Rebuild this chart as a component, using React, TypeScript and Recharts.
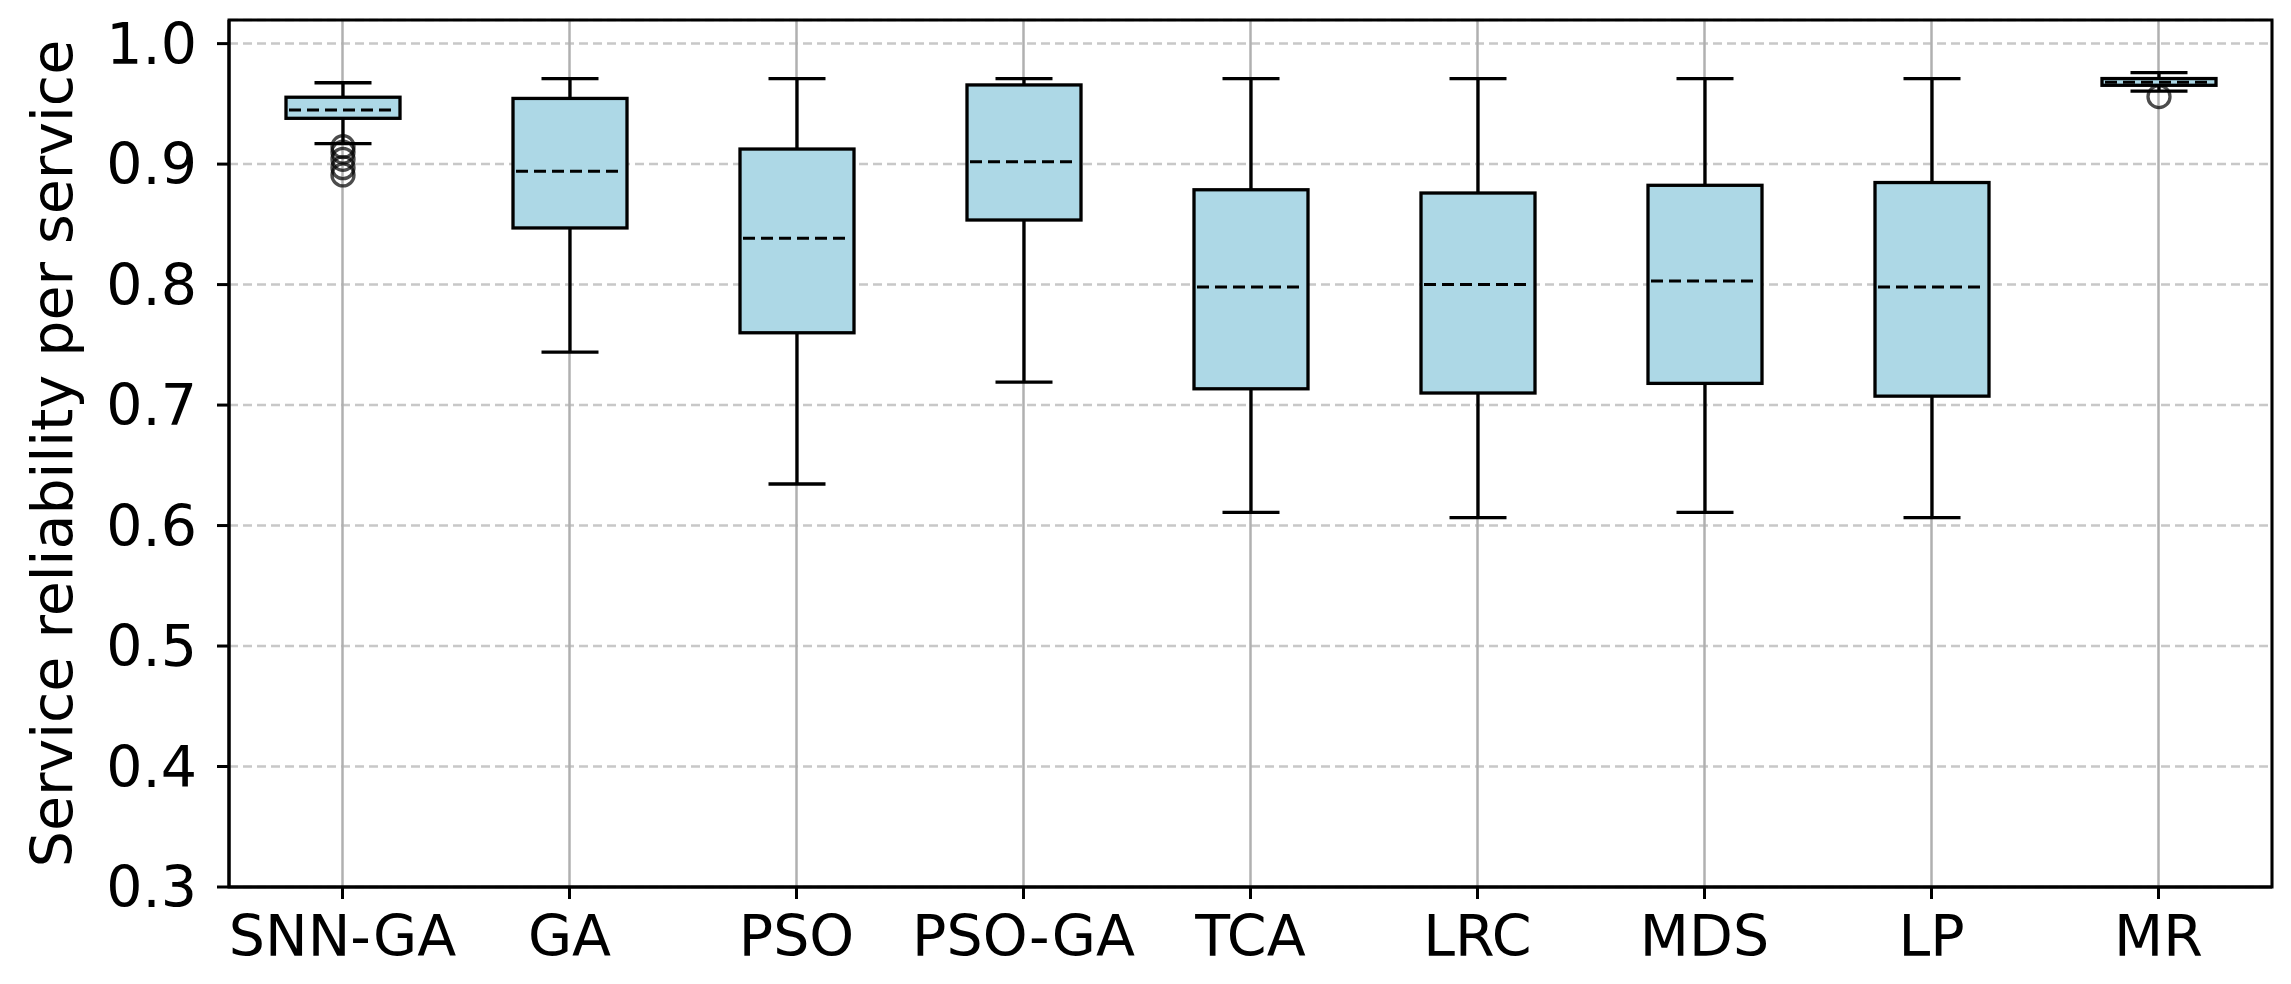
import React from 'react';
import { ComposedChart, Bar, XAxis, YAxis, CartesianGrid, ReferenceArea } from 'recharts';

const categories = ['SNN-GA', 'GA', 'PSO', 'PSO-GA', 'TCA', 'LRC', 'MDS', 'LP', 'MR'];
const whiskerLow = [0.917, 0.744, 0.6345, 0.719, 0.611, 0.6065, 0.611, 0.6065, 0.9605];
const q1Values = [0.938, 0.847, 0.76, 0.8536, 0.7135, 0.71, 0.718, 0.7074, 0.9654];
const medianValues = [0.945, 0.894, 0.8385, 0.902, 0.798, 0.8, 0.803, 0.798, 0.968];
const q3Values = [0.9555, 0.9545, 0.9125, 0.9657, 0.8787, 0.876, 0.8824, 0.8847, 0.971];
const whiskerHigh = [0.9675, 0.971, 0.971, 0.971, 0.971, 0.971, 0.971, 0.971, 0.976];
const outlierValues: number[][] = [
  [0.9145, 0.91, 0.904, 0.897, 0.891],
  [], [], [], [], [], [], [],
  [0.956],
];
const yTicks = [0.3, 0.4, 0.5, 0.6, 0.7, 0.8, 0.9, 1.0];
const yDomain = [0.3, 1.0196];

const data = categories.map((name, i) => ({
  name,
  low: whiskerLow[i],
  q1: q1Values[i],
  median: medianValues[i],
  q3: q3Values[i],
  high: whiskerHigh[i],
  outliers: outlierValues[i],
}));

const FONT = "'DejaVu Sans', sans-serif";

const BoxShape = (props: any) => {
  const { x, y, width, height, payload } = props;
  if (!payload) return null;
  const { low, high, q1, q3, median, outliers } = payload;
  const toY = (v: number) => y + ((high - v) / (high - low)) * height;
  const cx = x + width / 2;
  const capHalf = width / 4;
  const lw = 3.3;
  return (
    <g>
      <line x1={cx} x2={cx} y1={toY(high)} y2={toY(q3)} stroke="#000" strokeWidth={lw} />
      <line x1={cx} x2={cx} y1={toY(q1)} y2={toY(low)} stroke="#000" strokeWidth={lw} />
      <line x1={cx - capHalf} x2={cx + capHalf} y1={toY(high)} y2={toY(high)} stroke="#000" strokeWidth={lw} />
      <line x1={cx - capHalf} x2={cx + capHalf} y1={toY(low)} y2={toY(low)} stroke="#000" strokeWidth={lw} />
      <rect
        x={x}
        y={toY(q3)}
        width={width}
        height={toY(q1) - toY(q3)}
        fill="#ADD8E6"
        stroke="#000"
        strokeWidth={lw}
      />
      <line
        x1={x + 3}
        x2={x + width - 3}
        y1={toY(median)}
        y2={toY(median)}
        stroke="#000"
        strokeWidth={3}
        strokeDasharray="12 6"
      />
      {outliers.map((v: number, k: number) => (
        <circle
          key={k}
          cx={cx}
          cy={toY(v)}
          r={11}
          fill="none"
          stroke="#000"
          strokeOpacity={0.7}
          strokeWidth={3.3}
        />
      ))}
    </g>
  );
};

const YLabel = (props: any) => {
  const vb = props.viewBox || {};
  const lx = (vb.x || 0) + 44;
  const ly = (vb.y || 0) + (vb.height || 0) / 2;
  return (
    <text
      x={lx}
      y={ly}
      transform={`rotate(-90, ${lx}, ${ly})`}
      textAnchor="middle"
      dominantBaseline="central"
      fontSize={57}
      fontFamily={FONT}
      fill="#000"
    >
      Service reliability per service
    </text>
  );
};

export default function App() {
  return (
    <div style={{ width: 2283, height: 976, background: '#fff' }}>
      <ComposedChart
        width={2283}
        height={976}
        data={data}
        margin={{ top: 12, right: 19, bottom: 0, left: 0 }}
      >
        <CartesianGrid
          horizontal={true}
          vertical={false}
          stroke="#c8c8c8"
          strokeWidth={2.5}
          strokeDasharray="9 5"
        />
        <CartesianGrid horizontal={false} vertical={true} stroke="#b0b0b0" strokeWidth={2.5} />
        <XAxis
          dataKey="name"
          type="category"
          height={97}
          tickSize={12}
          tickMargin={17}
          axisLine={{ stroke: '#000', strokeWidth: 3 }}
          tickLine={{ stroke: '#000', strokeWidth: 3 }}
          tick={{ fontSize: 57, fill: '#000', fontFamily: FONT }}
          interval={0}
        />
        <YAxis
          type="number"
          domain={yDomain}
          ticks={yTicks}
          allowDataOverflow
          width={221}
          tickSize={12}
          tickMargin={20}
          axisLine={{ stroke: '#000', strokeWidth: 3 }}
          tickLine={{ stroke: '#000', strokeWidth: 3 }}
          tick={{ fontSize: 57, fill: '#000', fontFamily: FONT }}
          tickFormatter={(v: number) => v.toFixed(1)}
          label={<YLabel />}
        />
        <Bar
          dataKey={(d: any) => [d.low, d.high]}
          barSize={114}
          shape={<BoxShape />}
          isAnimationActive={false}
        />
        <ReferenceArea
          y1={yDomain[0]}
          y2={yDomain[1]}
          fill="none"
          fillOpacity={0}
          stroke="#000"
          strokeWidth={3}
          ifOverflow="visible"
        />
      </ComposedChart>
    </div>
  );
}
